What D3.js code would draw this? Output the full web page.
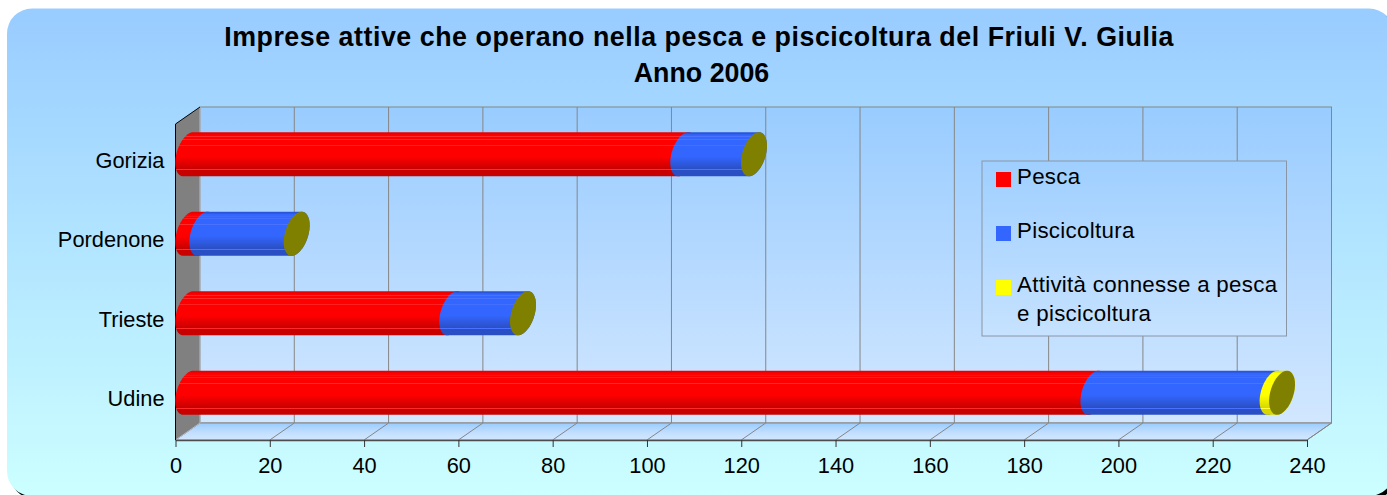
<!DOCTYPE html>
<html><head><meta charset="utf-8">
<script src="https://cdnjs.cloudflare.com/ajax/libs/d3/7.8.5/d3.min.js"></script>
<style>html,body{margin:0;padding:0;background:#fff;overflow:hidden}svg{display:block}text{font-family:"Liberation Sans",Arial,sans-serif;fill:#000}</style>
</head><body><div id="c"></div>
<script>
const categories = ["Gorizia","Pordenone","Trieste","Udine"];
const pesca = [105,3,56,192];
const piscicoltura = [15,20,15,38];
const connesse = [0,0,0,2];
const seriesNames = ["Pesca","Piscicoltura","Attività connesse a pesca|e piscicoltura"];
const seriesColors = ["#ff0000","#3366ff","#ffff00"];
const xTicks = d3.range(0,241,20);
const titleLines = ["Imprese attive che operano nella pesca e piscicoltura del Friuli V. Giulia","Anno 2006"];

const W=1387,H=495;
const L=175.5,R=1307,T=124,B=440,DX=24.5,DY=17;
const x=d3.scaleLinear().domain([0,240]).range([L,R]);
const y=d3.scaleBand().domain(categories).range([122,440]).paddingInner(0.445).paddingOuter(0.2225);
const svg=d3.select("#c").append("svg").attr("width",W).attr("height",H);
const defs=svg.append("defs");
function grad(id,stops,x2=0,y2=1){
  const g=defs.append("linearGradient").attr("id",id).attr("x1",0).attr("y1",0).attr("x2",x2).attr("y2",y2);
  stops.forEach(s=>g.append("stop").attr("offset",s[0]).attr("stop-color",s[1]));
}
grad("panel",[[0,"#99ccff"],[1,"#ccffff"]]);
grad("wall",[[0,"#99ccff"],[1,"#d2e7ff"]]);
grad("floor",[[0,"#99ccff"],[0.6,"#c4e0ff"],[1,"#d2e7ff"]]);
grad("legendBg",[[0,"#9fcfff"],[1,"#c6e2ff"]]);
function tube(id,top,mid,bot,hi){
  grad(id,[[0,top],[.03,top],[.06,mid],[.085,mid],[.09,hi],[.105,hi],[.11,mid],[.15,mid],[.155,hi],[.165,hi],[.17,mid],
    [.28,mid],[.285,hi],[.30,hi],[.305,mid],[.55,mid],[.84,bot],[.845,hi],[.86,hi],[.865,bot],[1,bot]]);
}
tube("t0","#ea0000","#ff0000","#c80000","#ff2a2a");
tube("t1","#2a55d8","#3366ff","#2a4fc4","#4872ff");
tube("t2","#e6e600","#ffff00","#d8d800","#ffff40");

// panel with shadow
svg.append("rect").attr("x",10).attr("y",11.5).attr("width",1387).attr("height",487.5).attr("rx",25).attr("fill","#000");
svg.append("rect").attr("x",7).attr("y",8.5).attr("width",1387).attr("height",487.5).attr("rx",25).attr("fill","url(#panel)");

// title
svg.append("g").selectAll("text").data(titleLines).join("text")
  .attr("x",(d,i)=>i?701.5:699).attr("y",(d,i)=>46+i*36).attr("text-anchor","middle")
  .attr("font-size",26.8).attr("font-weight","bold").attr("letter-spacing",(d,i)=>i?0:0.53).text(d=>d);

// walls
const line=d3.line();
svg.append("rect").attr("x",L+DX).attr("y",T-DY).attr("width",R-L).attr("height",B-T)
  .attr("fill","url(#wall)").attr("stroke","#868686").attr("stroke-width",1);
svg.append("path").attr("d",line([[L,B],[L+DX,B-DY],[R+DX,B-DY],[R,B]])+"Z").attr("fill","url(#floor)").attr("stroke","#868686");
svg.append("g").selectAll("line").data(xTicks.slice(1,-1)).join("line")
  .attr("x1",d=>x(d)+DX).attr("x2",d=>x(d)+DX).attr("y1",T-DY).attr("y2",B-DY).attr("stroke","#868686");
svg.append("g").selectAll("line").data(xTicks.slice(1)).join("line")
  .attr("x1",d=>x(d)).attr("x2",d=>x(d)+DX).attr("y1",B).attr("y2",B-DY).attr("stroke","#868686");
svg.append("path").attr("d",line([[L,T],[L+DX,T-DY],[L+DX,B-DY],[L,B]])+"Z").attr("fill","#808080");
svg.append("path").attr("d",line([[L+DX,T-DY],[L+DX,B-DY],[L,B]])).attr("fill","none").attr("stroke","#b4bcc8").attr("stroke-width",1);
svg.append("path").attr("d",line([[L+DX,T-DY],[L,T],[L,B]])).attr("fill","none").attr("stroke","#000").attr("stroke-width",1);

// axes
const ax=svg.append("g").attr("transform",`translate(0,${B})`).call(d3.axisBottom(x).tickValues(xTicks).tickSize(7).tickSizeOuter(0).tickPadding(11));
ax.select(".domain").attr("stroke","#4d4d4d").attr("stroke-width",1.6);
ax.selectAll(".tick line").attr("stroke","#333");
ax.selectAll("text").attr("font-size",21.8).attr("font-family",'"Liberation Sans"').attr("fill","#000");
const ay=svg.append("g").attr("transform",`translate(${L},-1)`).call(d3.axisLeft(y).tickSize(0).tickPadding(11));
ay.select(".domain").remove();
ay.selectAll("text").attr("font-size",21.8).attr("font-family",'"Liberation Sans"').attr("fill","#000");

// cylinders
const RY=22,SK=5,RX=12;
const cap=(cx,cy,a0,a1)=>d3.range(0,37).map(i=>{const t=a0+(a1-a0)*i/36;
  const c=Math.cos(t),s=Math.sin(t);
  return [cx+RX*c-SK*s,cy+RY*s];});
const stacks=categories.map((c,i)=>{let s=0;return [pesca[i],piscicoltura[i],connesse[i]].map((v,k)=>{const o={k,a:s,b:s+v,c};s+=v;return o;});});
const g=svg.append("g");
stacks.forEach(st=>{
  const c=st[0].c, cy=y(c)+y.bandwidth()/2-7.5;
  const px=v=>x(v)+DX/2+0.5;
  st.filter(d=>d.b>d.a).forEach(d=>{
    const left=cap(px(d.a),cy,-Math.PI/2,-Math.PI*1.5);
    const right=cap(px(d.b),cy,Math.PI/2,-Math.PI/2);
    g.append("path").attr("d",line(left.concat(right))+"Z").attr("fill",`url(#t${d.k})`);
  });
  const tot=st[2].b;
  g.append("path").attr("d",line(cap(px(tot),cy,0,Math.PI*2))+"Z").attr("fill","#808000");
});

// legend
const lg=svg.append("g");
lg.append("rect").attr("x",982).attr("y",161).attr("width",304.5).attr("height",175).attr("fill","url(#legendBg)").attr("stroke","#8a96a4").attr("stroke-width",1);
const ly=d3.scalePoint().domain(seriesNames).range([172,280]);
seriesNames.forEach((n,i)=>{
  lg.append("rect").attr("x",996).attr("y",ly(n)).attr("width",15).attr("height",15).attr("fill",seriesColors[i]);
  n.split("|").forEach((t,j)=>lg.append("text").attr("x",1017).attr("y",ly(n)+12+j*29).attr("font-size",22.3).attr("letter-spacing",0.3).text(t));
});
</script></body></html>
